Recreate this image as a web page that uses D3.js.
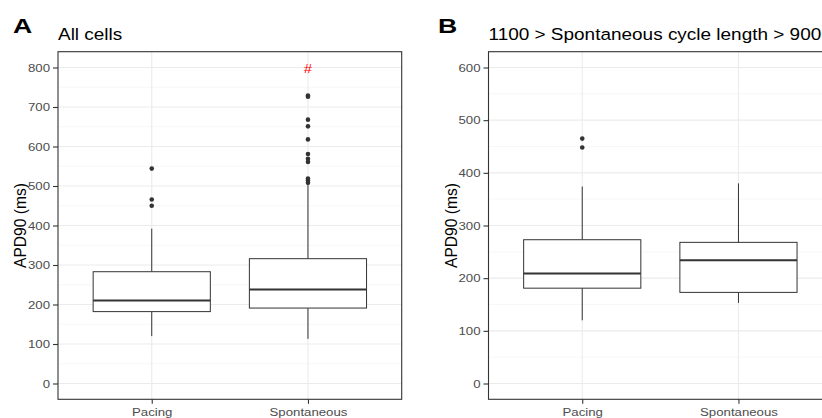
<!DOCTYPE html>
<html>
<head>
<meta charset="utf-8">
<script src="https://cdn.jsdelivr.net/npm/d3@7"></script>
<style>
  body { margin: 0; background: #fff; }
  svg { display: block; font-family: "Liberation Sans", Arial, sans-serif; }
</style>
</head>
<body>
<div id="chart"></div>
<script>
// categories on the x axis of both panels
const categories = ["Pacing", "Spontaneous"];

// box stats per category: [lower whisker, q1, median, q3, upper whisker]
const allCellsBox = [[120, 182, 210, 283, 392], [113, 191, 238, 316, 502]];
const allCellsOutliers = [[544, 466, 450], [729, 726, 668, 651, 618, 581, 569, 561, 519, 514, 508]];
const allCellsTicks = [0, 100, 200, 300, 400, 500, 600, 700, 800];

const cycleBox = [[120, 181, 209, 273, 374], [153, 173, 234, 268, 380]];
const cycleOutliers = [[465, 448], []];
const cycleTicks = [0, 100, 200, 300, 400, 500, 600];

const width = 822;
const height = 418;
const sx = 1.15; // text in the figure is a bit wider than tall

const svg = d3.select("#chart")
              .append("svg")
              .attr("width", width)
              .attr("height", height);

function wideText(parent, x, y, str, scale) {
    return parent.append("text")
                 .attr("transform", "translate(" + x + "," + y + ")scale(" + (scale || sx) + ",1)")
                 .text(str);
}

function drawPanel(opts) {
    const left = opts.left, top = 51.7, right = opts.left + 343.7, bottom = 399.3;

    const x = d3.scalePoint()
                .domain(categories)
                .range([left, right])
                .padding(0.6);
    const step = x.step();

    const y = d3.scaleLinear()
                .domain(opts.yDomain)
                .range([bottom, top]);

    const g = svg.append("g");

    // tag + title
    wideText(g, opts.tagX, 33.3, opts.tag, 1.3)
        .style("font-size", "20.5px")
        .style("font-weight", "bold");
    wideText(g, left, 40, opts.title)
        .style("font-size", "16.5px");

    // grid: minor, major, vertical
    const minor = opts.ticks.slice(0, -1).map(function (t, i) { return (t + opts.ticks[i + 1]) / 2; });
    minor.push(opts.ticks[opts.ticks.length - 1] + 50);
    g.selectAll("line.minor")
     .data(minor.filter(function (d) { return y(d) > top; }))
     .enter()
     .append("line")
     .attr("class", "minor")
     .attr("x1", left).attr("x2", right)
     .attr("y1", function (d) { return y(d); })
     .attr("y2", function (d) { return y(d); })
     .attr("stroke", "#f2f2f2")
     .attr("stroke-width", 0.6);
    g.selectAll("line.major")
     .data(opts.ticks)
     .enter()
     .append("line")
     .attr("class", "major")
     .attr("x1", left).attr("x2", right)
     .attr("y1", function (d) { return y(d); })
     .attr("y2", function (d) { return y(d); })
     .attr("stroke", "#ebebeb")
     .attr("stroke-width", 1.1);
    g.selectAll("line.vmajor")
     .data(categories)
     .enter()
     .append("line")
     .attr("class", "vmajor")
     .attr("x1", function (d) { return x(d); })
     .attr("x2", function (d) { return x(d); })
     .attr("y1", top).attr("y2", bottom)
     .attr("stroke", "#ebebeb")
     .attr("stroke-width", 1.1);

    // boxplots
    const boxes = g.selectAll("g.box")
                   .data(categories.map(function (c, i) {
                       return {key: c, s: opts.box[i], out: opts.outliers[i]};
                   }))
                   .enter()
                   .append("g")
                   .attr("class", "box");
    const bw = step * 0.75;

    boxes.append("line")
         .attr("x1", function (d) { return x(d.key); })
         .attr("x2", function (d) { return x(d.key); })
         .attr("y1", function (d) { return y(d.s[0]); })
         .attr("y2", function (d) { return y(d.s[1]); })
         .attr("stroke", "#333")
         .attr("stroke-width", 1);
    boxes.append("line")
         .attr("x1", function (d) { return x(d.key); })
         .attr("x2", function (d) { return x(d.key); })
         .attr("y1", function (d) { return y(d.s[3]); })
         .attr("y2", function (d) { return y(d.s[4]); })
         .attr("stroke", "#333")
         .attr("stroke-width", 1);
    boxes.append("rect")
         .attr("x", function (d) { return x(d.key) - bw / 2; })
         .attr("y", function (d) { return y(d.s[3]); })
         .attr("width", bw)
         .attr("height", function (d) { return y(d.s[1]) - y(d.s[3]); })
         .attr("fill", "#fff")
         .attr("stroke", "#333")
         .attr("stroke-width", 1);
    boxes.append("line")
         .attr("x1", function (d) { return x(d.key) - bw / 2; })
         .attr("x2", function (d) { return x(d.key) + bw / 2; })
         .attr("y1", function (d) { return y(d.s[2]); })
         .attr("y2", function (d) { return y(d.s[2]); })
         .attr("stroke", "#333")
         .attr("stroke-width", 2);
    boxes.selectAll("circle")
         .data(function (d) { return d.out.map(function (v) { return {key: d.key, v: v}; }); })
         .enter()
         .append("circle")
         .attr("cx", function (d) { return x(d.key); })
         .attr("cy", function (d) { return y(d.v); })
         .attr("r", 2.3)
         .attr("fill", "#333");

    if (opts.mark) {
        wideText(g, x(opts.mark.key), y(opts.mark.v) + 5, "#")
            .attr("text-anchor", "middle")
            .style("font-size", "13px")
            .attr("fill", "#ff0000");
    }

    // panel border
    g.append("rect")
     .attr("x", left).attr("y", top)
     .attr("width", right - left).attr("height", bottom - top)
     .attr("fill", "none")
     .attr("stroke", "#333")
     .attr("stroke-width", 1.1);

    // axes
    const yAxis = g.append("g")
                   .attr("transform", "translate(" + left + ",0)")
                   .call(d3.axisLeft(y).tickValues(opts.ticks).tickSize(5).tickPadding(3));
    const xAxis = g.append("g")
                   .attr("transform", "translate(0," + bottom + ")")
                   .call(d3.axisBottom(x).tickSize(4.5).tickPadding(4.5));
    [yAxis, xAxis].forEach(function (a) {
        a.select(".domain").remove();
        a.selectAll(".tick line").attr("stroke", "#333").attr("stroke-width", 1.1);
        a.selectAll(".tick text")
         .attr("fill", "#4d4d4d")
         .attr("transform", "scale(" + sx + ",1)")
         .style("font-size", "11.5px")
         .style("font-family", "'Liberation Sans', Arial, sans-serif");
    });
    yAxis.selectAll(".tick text").attr("x", -8 / sx);

    g.append("text")
     .attr("transform", "translate(" + (left - 32) + "," + ((top + bottom) / 2) + ")rotate(-90)")
     .attr("text-anchor", "middle")
     .style("font-size", "15.6px")
     .text("APD90 (ms)");
}

drawPanel({
    tag: "A", tagX: 13, title: "All cells", left: 58,
    yDomain: [-40, 840], ticks: allCellsTicks,
    box: allCellsBox, outliers: allCellsOutliers,
    mark: {key: "Spontaneous", v: 800}
});
drawPanel({
    tag: "B", tagX: 438, title: "1100 > Spontaneous cycle length > 900", left: 488.5,
    yDomain: [-30, 630], ticks: cycleTicks,
    box: cycleBox, outliers: cycleOutliers
});
</script>
</body>
</html>
